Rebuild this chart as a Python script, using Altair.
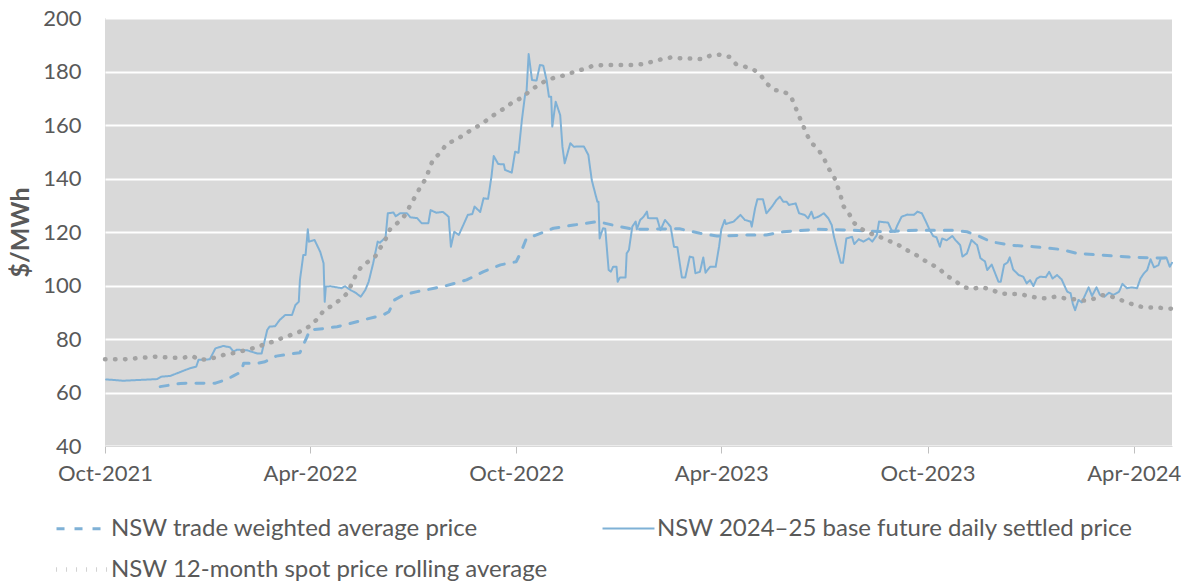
import altair as alt
import pandas as pd

BASE = "2021-10-01"

# (days since 1 Oct 2021, $/MWh)
future = [(1,64.9),(16,64.4),(46,65.0),(50,65.9),(58,66.2),(64,67.2),(70,68.2),(75,69.0),(81,69.7),(83,72.2),
(93,72.4),(98,76.5),(105,77.4),(111,76.9),(114,75.3),(117,76.0),(126,75.8),(135,74.6),(139,74.6),(144,83.4),
(146,84.6),(151,84.8),(155,87.1),(160,89.0),(166,89.0),(169,92.7),(172,93.9),(173,102.0),(176,111.4),(178,111.4),
(180,121.0),(181,116.4),(186,117.0),(191,112.6),(194,108.3),(195,93.9),(196,99.6),(200,99.7),(206,99.3),(210,99.0),
(213,99.7),(218,98.3),(223,97.1),(227,95.8),(231,98.3),(234,101.4),(238,108.3),(242,116.4),(244,116.0),(249,118.0),
(251,127.0),(256,127.3),(258,125.9),(262,127.0),(268,127.0),(271,125.5),(277,125.2),(281,123.3),(287,123.3),(289,128.2),
(294,127.2),(300,127.5),(305,125.7),(307,114.5),(310,120.1),(314,118.9),(318,122.6),(322,126.4),(326,126.7),(328,129.5),
(333,127.5),(336,132.6),(340,132.4),(343,140.7),(345,148.4),(349,145.4),(354,145.3),(355,143.2),(361,142.2),(364,150.0),
(367,149.6),(370,161.9),(373,171.8),(374,171.5),(376,186.5),(379,176.8),(383,176.6),(386,182.4),(389,182.2),(392,176.6),
(394,170.6),(396,170.6),(397,159.4),(400,168.7),(404,163.7),(406,151.9),(408,145.7),(413,153.2),(416,151.9),(425,152.0),
(429,148.8),(432,139.4),(437,131.3),(438,131.3),(439,117.6),(442,121.4),(444,121.2),(447,105.8),(449,105.2),(451,107.0),
(454,107.0),(455,101.4),(457,103.0),(462,103.0),(463,112.0),(465,113.3),(468,122.0),(471,123.9),(472,121.0),(475,124.5),
(478,125.7),(481,127.6),(482,125.2),(490,125.1),(493,120.7),(497,124.5),(502,122.0),(505,114.5),(508,114.3),(512,103.0),
(515,103.0),(519,110.8),(522,110.5),(524,104.6),(528,105.1),(531,110.5),(533,104.8),(537,107.0),(542,107.0),(545,114.5),
(547,121.0),(550,124.5),(551,123.0),(558,123.9),(564,126.4),(568,124.5),(573,123.9),(574,122.0),(577,128.9),(579,132.2),
(584,132.2),(587,127.0),(592,129.5),(596,132.0),(599,133.2),(602,131.3),(605,131.3),(607,130.1),(613,130.7),(616,127.0),
(621,126.4),(624,125.1),(627,127.6),(629,125.1),(633,125.7),(638,127.0),(642,125.1),(645,122.6),(647,118.2),(650,113.3),
(653,108.5),(655,108.5),(658,117.6),(663,118.2),(665,115.5),(669,117.3),(673,116.4),(678,117.6),(681,116.4),(685,118.8),
(687,123.9),(695,123.5),(698,120.7),(701,120.1),(703,122.3),(707,125.7),(712,126.5),(718,126.4),(721,127.6),(725,127.0),
(729,123.5),(732,120.7),(735,118.5),(738,118.0),(741,114.5),(743,117.6),(747,116.9),(752,118.5),(755,116.9),(759,115.1),
(761,110.8),(765,112.0),(769,117.0),(774,115.1),(777,110.2),(781,109.0),(783,105.8),(787,107.8),(790,104.6),(793,101.4),
(795,101.4),(798,107.8),(801,108.6),(803,110.5),(806,106.0),(811,103.9),(815,103.3),(818,100.8),(821,102.0),(824,99.8),
(827,102.6),(830,103.3),(835,103.1),(838,105.1),(841,102.6),(845,103.9),(849,102.3),(854,97.7),(857,97.1),(859,93.1),
(861,90.8),(864,94.6),(867,93.7),(870,96.5),(873,99.3),(876,96.1),(880,99.3),(883,96.5),(887,95.8),(891,97.3),
(895,96.5),(900,97.7),(903,100.6),(907,99.0),(911,99.3),(916,99.0),(919,102.6),(922,104.5),(925,105.8),(928,109.8),
(931,106.8),(935,107.6),(937,110.1),(942,110.5),(945,107.0),(947,108.5)]

twap = [(49,62.2),(67,63.4),(98,63.5),(108,64.9),(114,66.2),(121,67.8),(123,70.9),(135,70.9),(142,71.5),(152,73.6),
(173,74.9),(178,79.6),(182,83.4),(194,83.9),(206,84.6),(216,85.6),(229,87.1),(247,89.0),(252,90.2),(257,94.6),
(265,96.5),(277,97.7),(300,99.6),(321,102.1),(336,105.2),(351,107.7),(365,108.9),(370,113.3),(374,117.6),(383,118.9),
(398,121.4),(416,122.6),(437,123.9),(457,122.0),(469,121.0),(510,121.2),(528,119.5),(543,118.5),(573,118.9),(587,118.9),
(602,120.1),(632,121.0),(661,120.7),(691,120.1),(721,120.7),(750,120.7),(765,120.1),(777,118.2),(786,116.4),(803,115.1),
(824,114.5),(848,113.5),(863,112.0),(883,111.4),(913,110.5),(947,110.2)]

spot = [(0,72.4),(16,72.4),(34,73.0),(43,73.4),(60,73.0),(69,73.0),(78,73.6),(83,72.2),(92,72.4),(100,73.4),
(108,74.4),(117,74.9),(125,75.9),(134,76.8),(142,78.1),(150,79.1),(158,80.5),(167,81.8),(175,83.1),(182,84.9),
(189,87.7),(194,90.6),(202,92.6),(209,94.8),(215,97.1),(223,104.2),(228,107.3),(235,109.3),(240,111.0),(245,114.5),
(249,117.3),(253,121.0),(261,123.9),(267,126.6),(271,130.1),(276,133.8),(280,136.9),(285,140.1),(288,143.8),(291,146.9),
(298,149.8),(303,152.9),(312,154.6),(319,156.5),(326,158.4),(334,160.3),(341,162.5),(348,164.6),(356,166.6),(362,168.6),
(371,170.4),(377,172.8),(385,175.0),(392,176.8),(400,177.8),(409,178.7),(416,179.8),(424,180.8),(433,182.1),(442,182.4),
(451,182.4),(460,182.4),(469,182.4),(478,182.8),(486,183.7),(494,184.6),(503,185.3),(512,184.9),(521,184.9),(530,184.6),
(537,185.9),(545,186.3),(554,185.5),(560,182.8),(568,181.8),(576,180.6),(582,178.6),(587,175.6),(594,173.1),(601,172.7),
(608,171.2),(612,167.7),(615,164.1),(619,160.6),(622,157.1),(627,153.3),(633,150.9),(638,147.6),(642,143.9),(647,140.7),
(650,137.2),(653,133.5),(655,129.9),(661,126.4),(665,123.3),(672,121.0),(679,119.5),(687,118.3),(695,116.8),(703,115.5),
(710,113.6),(718,111.9),(725,110.0),(732,108.1),(740,106.6),(746,103.8),(753,102.3),(761,99.6),(769,98.6),(777,99.4),
(786,98.6),(794,97.1),(802,96.8),(811,96.8),(820,96.1),(829,95.2),(837,95.2),(843,95.8),(852,95.2),(861,94.8),
(870,94.3),(879,95.2),(885,96.4),(892,96.1),(900,94.8),(908,93.6),(916,92.3),(925,91.8),(934,91.8),(942,91.4),(947,91.3)]

TWAP = "NSW trade weighted average price"
FUT = "NSW 2024\u201325 base future daily settled price"
SPOT = "NSW 12-month spot price rolling average"
# legend order (the legend grid fills column by column)
names = [TWAP, SPOT, FUT]

y_ticks = [40, 60, 80, 100, 120, 140, 160, 180, 200]
x_ticks = [(2021, 10), (2022, 4), (2022, 10), (2023, 4), (2023, 10), (2024, 4)]

BLUE = "#7fb1d6"
GRAY = "#a3a3a3"
TXT = "#595959"
FONT = "Lato"


def frame(pairs, name):
    d = pd.DataFrame(pairs, columns=["day", "price"])
    d["date"] = pd.Timestamp(BASE) + pd.to_timedelta(d["day"], unit="D")
    d["series"] = name
    return d


df = pd.concat([frame(twap, TWAP), frame(future, FUT), frame(spot, SPOT)],
               ignore_index=True)[["date", "price", "series"]]

legend = alt.Legend(orient="none", legendX=-51, legendY=483, columns=2, title=None,
                    labelFont=FONT, labelFontSize=24, labelColor=TXT, labelLimit=700,
                    symbolType="stroke", symbolSize=2700, labelOffset=0,
                    columnPadding=50, rowPadding=-6)

chart = alt.Chart(df).mark_line(strokeCap="round", strokeJoin="round").encode(
    x=alt.X("date:T",
            scale=alt.Scale(domain=[alt.DateTime(year=2021, month=10, date=1),
                                    alt.DateTime(year=2024, month=5, date=5)]),
            axis=alt.Axis(values=[alt.DateTime(year=a, month=b, date=1) for a, b in x_ticks],
                          format="%b-%Y", title=None, grid=False, labelAngle=0,
                          labelFlush=False, labelOverlap=False,
                          domainColor="#d9d9d9", tickColor="#bfbfbf", tickSize=7,
                          labelPadding=10, labelFont=FONT, labelFontSize=22, labelColor=TXT)),
    y=alt.Y("price:Q",
            scale=alt.Scale(domain=[40, 200], nice=False, zero=False),
            axis=alt.Axis(values=y_ticks, title="$/MWh", grid=True, gridColor="white",
                          gridWidth=2, domain=False, ticks=False, labelPadding=24,
                          labelFont=FONT, labelFontSize=22, labelColor=TXT,
                          titleFont=FONT, titleFontSize=25, titleFontWeight="bold",
                          titleColor=TXT, titlePadding=9)),
    color=alt.Color("series:N", scale=alt.Scale(domain=names, range=[BLUE, GRAY, BLUE]),
                    legend=legend),
    strokeDash=alt.StrokeDash("series:N",
                              scale=alt.Scale(domain=names, range=[[8, 10], [0.5, 9.5], [1, 0]]),
                              legend=legend),
    strokeWidth=alt.StrokeWidth("series:N",
                                scale=alt.Scale(type="ordinal", domain=names, range=[3, 4.5, 2]),
                                legend=legend),
).properties(
    width=1067, height=428,
    autosize=alt.AutoSizeParams(type="none"),
    padding={"left": 97, "top": 10, "right": 10, "bottom": 140},
    background="white",
).configure_view(fill="#d9d9d9", strokeWidth=0)

chart.save("out.html", embed_options={"renderer": "svg", "actions": False})
